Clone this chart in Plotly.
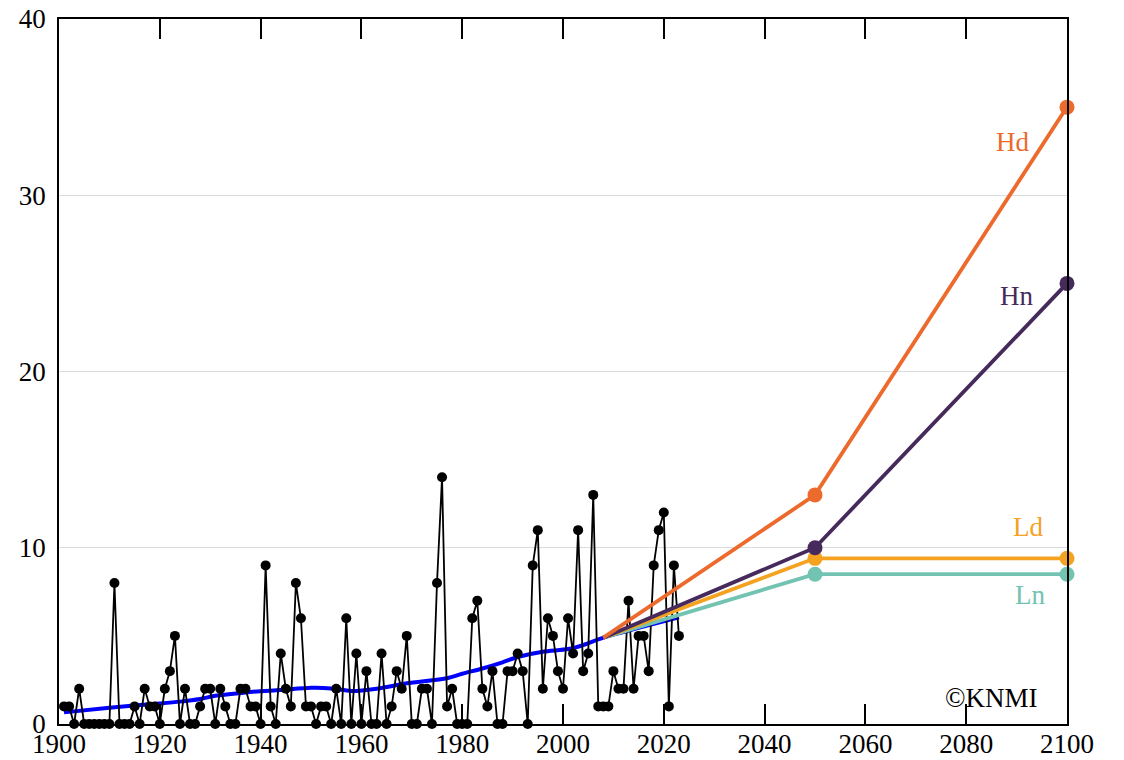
import plotly.graph_objects as go

# Observed yearly counts, 1901-2023
years = list(range(1901, 2024))
counts = [
    1, 1, 0, 2, 0, 0, 0, 0, 0, 0,      # 1901-1910
    8, 0, 0, 0, 1, 0, 2, 1, 1, 0,      # 1911-1920
    2, 3, 5, 0, 2, 0, 0, 1, 2, 2,      # 1921-1930
    0, 2, 1, 0, 0, 2, 2, 1, 1, 0,      # 1931-1940
    9, 1, 0, 4, 2, 1, 8, 6, 1, 1,      # 1941-1950
    0, 1, 1, 0, 2, 0, 6, 0, 4, 0,      # 1951-1960
    3, 0, 0, 4, 0, 1, 3, 2, 5, 0,      # 1961-1970
    0, 2, 2, 0, 8, 14, 1, 2, 0, 0,     # 1971-1980
    0, 6, 7, 2, 1, 3, 0, 0, 3, 3,      # 1981-1990
    4, 3, 0, 9, 11, 2, 6, 5, 3, 2,     # 1991-2000
    6, 4, 11, 3, 4, 13, 1, 1, 1, 3,    # 2001-2010
    2, 2, 7, 2, 5, 5, 3, 9, 11, 12,    # 2011-2020
    1, 9, 5,                           # 2021-2023
]

# Smoothed trend
trend_years = [1901, 1910, 1918, 1924, 1928, 1931, 1934, 1938, 1944, 1950,
               1954, 1958, 1963, 1969, 1977, 1980, 1984, 1988, 1991, 1996,
               2001, 2004, 2008, 2015, 2023]
trend_values = [0.66, 0.92, 1.12, 1.27, 1.42, 1.60, 1.70, 1.82, 1.93, 2.05,
                2.02, 1.87, 2.00, 2.31, 2.60, 2.85, 3.15, 3.50, 3.80, 4.10,
                4.25, 4.48, 4.90, 5.45, 6.05]

# Scenario projections
scen_years = [2008, 2050, 2100]
scenarios = {
    "Ln": [4.9, 8.5, 8.5],
    "Ld": [4.9, 9.4, 9.4],
    "Hn": [4.9, 10.0, 25.0],
    "Hd": [4.9, 13.0, 35.0],
}
scen_colors = {"Ln": "#72C3B1", "Ld": "#F4A21F", "Hn": "#452A5B", "Hd": "#ED6A2D"}
label_pos = {"Hd": (2089.2, 33.0), "Hn": (2090.0, 24.3),
             "Ld": (2092.2, 11.2), "Ln": (2092.6, 7.3)}

x_ticks = list(range(1900, 2101, 20))
y_ticks = [0, 10, 20, 30, 40]

FONT = "Liberation Serif, Times New Roman, serif"
FSIZE = 27

fig = go.Figure()

fig.add_trace(go.Scatter(
    x=trend_years, y=trend_values, mode="lines",
    line=dict(color="#0000FF", width=4, shape="spline", smoothing=0.8),
    cliponaxis=False, hoverinfo="skip",
))

fig.add_trace(go.Scatter(
    x=years, y=counts, mode="lines+markers",
    line=dict(color="black", width=1.8),
    marker=dict(color="black", size=10),
    cliponaxis=False,
))

for name in ["Ln", "Ld", "Hn", "Hd"]:
    vals = scenarios[name]
    c = scen_colors[name]
    fig.add_trace(go.Scatter(
        x=scen_years, y=vals, mode="lines",
        line=dict(color=c, width=3.8), cliponaxis=False,
    ))
    fig.add_trace(go.Scatter(
        x=scen_years[1:], y=vals[1:], mode="markers",
        marker=dict(color=c, size=15), cliponaxis=False,
    ))
    lx, ly = label_pos[name]
    fig.add_annotation(x=lx, y=ly, text=name, showarrow=False,
                       font=dict(family=FONT, size=FSIZE, color=c),
                       xanchor="center", yanchor="middle")

fig.add_annotation(x=2085, y=1.5, text="©KNMI", showarrow=False,
                   font=dict(family=FONT, size=FSIZE, color="black"),
                   xanchor="center", yanchor="middle")

fig.update_layout(
    width=1124, height=760,
    margin=dict(l=59, r=57, t=19, b=36),
    paper_bgcolor="white", plot_bgcolor="white",
    showlegend=False,
    font=dict(family=FONT, size=FSIZE, color="black"),
    xaxis=dict(
        range=[1900, 2100], tickvals=x_ticks, automargin=False,
        ticks="inside", ticklen=20, tickwidth=1.6, tickcolor="black",
        showline=True, linecolor="black", linewidth=1.6, mirror="ticks",
        showgrid=False, zeroline=False, ticklabelstandoff=-5,
        tickfont=dict(family=FONT, size=FSIZE, color="black"),
    ),
    yaxis=dict(
        range=[0, 40], tickvals=y_ticks, automargin=False,
        ticks="", showline=True, linecolor="black", linewidth=1.6, mirror=True,
        showgrid=True, gridcolor="#DCDCDC", gridwidth=1, zeroline=False,
        ticklabelstandoff=6,
        tickfont=dict(family=FONT, size=FSIZE, color="black"),
    ),
)

fig.write_html("out.html")
